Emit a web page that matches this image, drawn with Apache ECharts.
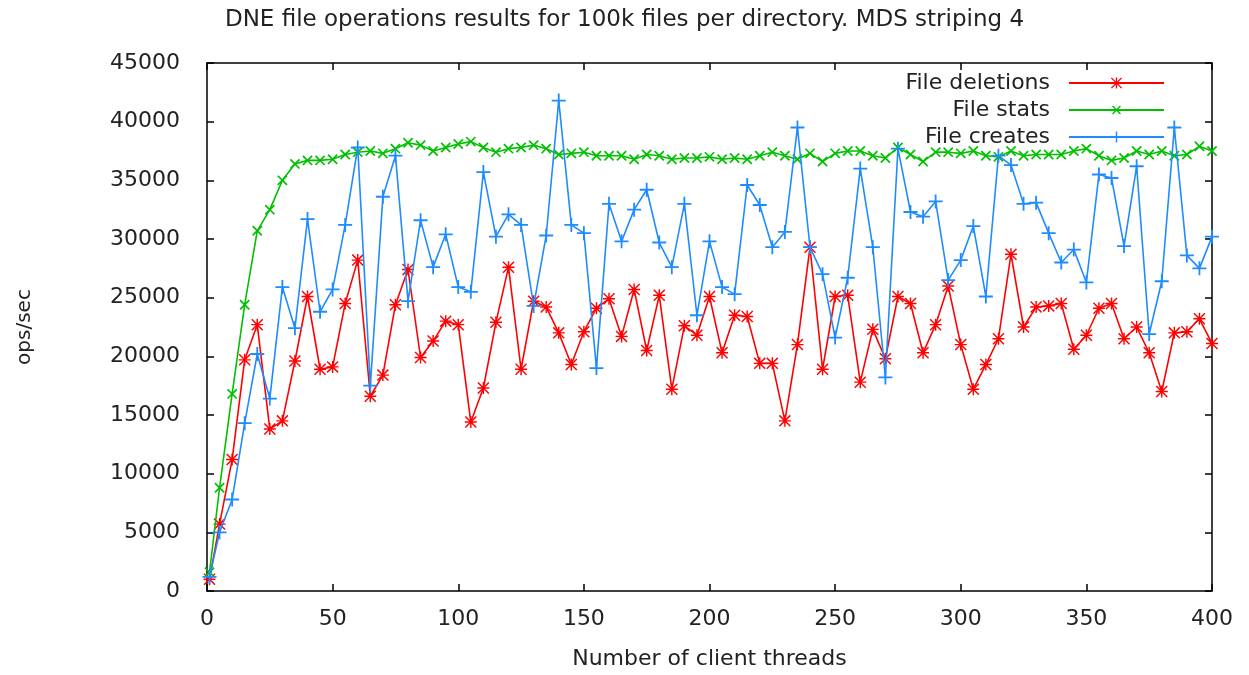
<!DOCTYPE html>
<html>
<head>
<meta charset="utf-8">
<script src="https://cdn.jsdelivr.net/npm/echarts@6/dist/echarts.min.js"></script>
<style>
html,body{margin:0;padding:0;background:#fff;}
#chart{width:1249px;height:675px;}
</style>
</head>
<body>
<div id="chart"></div>
<script>
const threads = [1,5,10,15,20,25,30,35,40,45,50,55,60,65,70,75,80,85,90,95,100,105,110,115,120,125,130,135,140,145,150,155,160,165,170,175,180,185,190,195,200,205,210,215,220,225,230,235,240,245,250,255,260,265,270,275,280,285,290,295,300,305,310,315,320,325,330,335,340,345,350,355,360,365,370,375,380,385,390,395,400];

const fileDeletions = [1000,5700,11200,19700,22700,13800,14500,19600,25100,18900,19100,24500,28200,16600,18400,24400,27400,19900,21300,23000,22700,14400,17300,22900,27600,18900,24700,24200,22000,19300,22100,24100,24900,21700,25700,20500,25200,17200,22600,21800,25100,20300,23500,23400,19400,19400,14500,21000,29300,18900,25100,25200,17800,22300,19800,25100,24500,20300,22700,26000,21000,17200,19300,21500,28700,22500,24200,24300,24500,20600,21800,24100,24500,21500,22500,20300,17000,22000,22100,23200,21100];

const fileStats = [1600,8800,16800,24400,30700,32500,35000,36400,36700,36700,36800,37200,37400,37500,37300,37700,38200,38000,37500,37800,38100,38300,37800,37400,37700,37800,38000,37700,37200,37300,37400,37100,37100,37100,36800,37200,37100,36800,36900,36900,37000,36800,36900,36800,37100,37400,37100,36800,37300,36600,37300,37500,37500,37100,36900,37800,37200,36600,37400,37400,37300,37500,37100,37000,37500,37100,37200,37200,37200,37500,37700,37100,36700,36900,37500,37200,37500,37100,37200,37900,37500];

const fileCreates = [1200,5000,7800,14300,20200,16400,25900,22400,31700,23800,25700,31200,37800,17500,33600,37100,24700,31600,27600,30400,25900,25500,35700,30200,32100,31200,24300,30300,41800,31200,30500,19000,33000,29800,32500,34200,29700,27600,33000,23500,29800,25900,25300,34600,32900,29300,30600,39500,29300,27000,21600,26700,36000,29300,18200,37700,32300,31900,33200,26500,28200,31100,25100,37100,36300,33000,33100,30500,28000,29100,26300,35500,35200,29400,36200,21900,26400,39500,28600,27500,30200];

const seriesNames = ['File deletions','File stats','File creates'];
const titleText = 'DNE file operations results for 100k files per directory. MDS striping 4';
const xName = 'Number of client threads';
const yName = 'ops/sec';

const FONT = 'DejaVu Sans';
const plusPath = 'path://M4.35,0h1.3v4.35h4.35v1.3h-4.35v4.35h-1.3v-4.35h-4.35v-1.3h4.35z';
const starPath = 'path://M4.4,0h1.2v10h-1.2z M0,4.4h10v1.2h-10z M0.85,0L10,9.15L9.15,10L0,0.85z M9.15,0L10,0.85L0.85,10L0,9.15z';

function pairs(vals){ return threads.map((t,i)=>[t, vals[i]]); }

const chart = echarts.init(document.getElementById('chart'));
const axisLine = {show:true, onZero:false, lineStyle:{color:'#000', width:1.5}};
const tick = {show:true, inside:true, length:7, lineStyle:{color:'#000', width:1.5}};
const lbl = {fontFamily:FONT, fontSize:22, color:'#222', formatter:(v)=>String(v)};

chart.setOption({
  backgroundColor:'#fff',
  animation:false,
  title:{
    text:titleText, left:'center', top:4,
    textStyle:{fontFamily:FONT, fontSize:23, fontWeight:'normal', color:'#222'}
  },
  legend:{
    orient:'vertical', right:79, top:67, align:'right',
    itemWidth:95, itemHeight:14, itemGap:5,
    textStyle:{fontFamily:FONT, fontSize:22, color:'#222', padding:[0,14,0,0]},
    data:seriesNames
  },
  grid:{left:207, right:37, top:63, bottom:84, containLabel:false},
  xAxis:[
    {type:'value', min:0, max:400, interval:50, position:'bottom',
     name:xName, nameLocation:'middle', nameGap:57,
     nameTextStyle:{fontFamily:FONT, fontSize:22, color:'#222'},
     axisLine:axisLine, axisTick:tick, splitLine:{show:false},
     axisLabel:Object.assign({margin:17}, lbl)},
    {type:'value', min:0, max:400, interval:50, position:'top',
     axisLine:axisLine, axisTick:tick, splitLine:{show:false}, axisLabel:{show:false}}
  ],
  yAxis:[
    {type:'value', min:0, max:45000, interval:5000, position:'left',
     name:yName, nameLocation:'middle', nameGap:172, nameRotate:90,
     nameTextStyle:{fontFamily:FONT, fontSize:20, color:'#222'},
     axisLine:axisLine, axisTick:tick, splitLine:{show:false},
     axisLabel:Object.assign({margin:27}, lbl)},
    {type:'value', min:0, max:45000, interval:5000, position:'right',
     axisLine:axisLine, axisTick:tick, splitLine:{show:false}, axisLabel:{show:false}}
  ],
  series:[
    {name:seriesNames[0], type:'line', data:pairs(fileDeletions),
     symbol:starPath, symbolSize:12, showAllSymbol:true,
     lineStyle:{color:'#ff0000', width:1.6}, itemStyle:{color:'#ff0000'}, z:2},
    {name:seriesNames[1], type:'line', data:pairs(fileStats),
     symbol:plusPath, symbolRotate:45, symbolSize:13, showAllSymbol:true,
     lineStyle:{color:'#00c000', width:1.6}, itemStyle:{color:'#00c000'}, z:3},
    {name:seriesNames[2], type:'line', data:pairs(fileCreates),
     symbol:plusPath, symbolSize:14, showAllSymbol:true,
     lineStyle:{color:'#1e8cff', width:1.6}, itemStyle:{color:'#1e8cff'}, z:4}
  ]
});
</script>
</body>
</html>
